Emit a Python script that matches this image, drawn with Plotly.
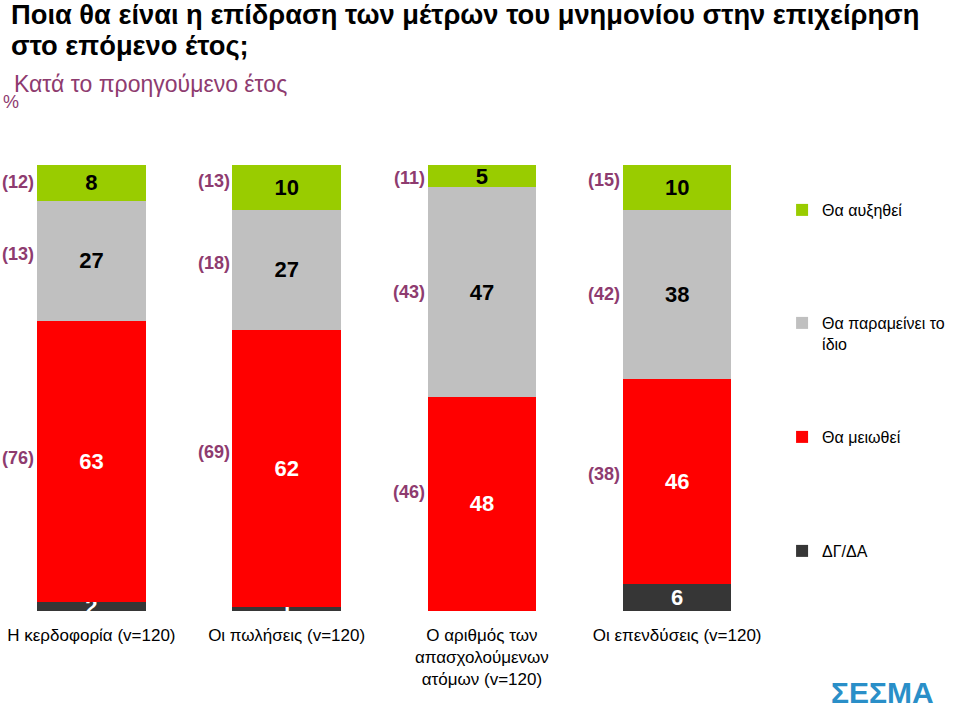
import plotly.graph_objects as go

categories = ["Η κερδοφορία (v=120)", "Οι πωλήσεις (v=120)",
              "Ο αριθμός των<br>απασχολούμενων<br>ατόμων (v=120)", "Οι επενδύσεις (v=120)"]
dk = [2, 1, 0, 6]          # ΔΓ/ΔΑ
decrease = [63, 62, 48, 46]  # Θα μειωθεί
same = [27, 27, 47, 38]      # Θα παραμείνει το ίδιο
increase = [8, 10, 5, 10]    # Θα αυξηθεί

prev_increase = [12, 13, 11, 15]
prev_same = [13, 18, 43, 42]
prev_decrease = [76, 69, 46, 38]

series = [
    ("ΔΓ/ΔΑ", dk, "#363636", "white", "legend4"),
    ("Θα μειωθεί", decrease, "#FF0000", "white", "legend3"),
    ("Θα παραμείνει το<br>ίδιο", same, "#C0C0C0", "black", "legend2"),
    ("Θα αυξηθεί", increase, "#99CC00", "black", "legend"),
]

FONT = "Liberation Sans, Arial, sans-serif"
PURPLE = "#8E3B6F"

fig = go.Figure()
xs = list(range(len(categories)))
for name, vals, color, tcolor, lg in series:
    fig.add_trace(go.Bar(
        x=xs, y=vals, name=name, marker=dict(color=color, line=dict(width=0)),
        width=0.555,
        text=[str(v) if v > 0 else "" for v in vals],
        textposition="inside", insidetextanchor="middle", textangle=0,
        textfont=dict(family=FONT, size=22, color=tcolor, weight="bold"),
        cliponaxis=True, legend=lg, hoverinfo="skip",
    ))

annotations = []
# previous-year labels at segment centres
yshift_inc = [1, 6, -2, 7]
yshift_same = [7, 7, 0, 0]
yshift_dec = [4, 16, 12, 8]
for i in xs:
    c_dec = dk[i] + decrease[i] / 2
    c_same = dk[i] + decrease[i] + same[i] / 2
    c_inc = dk[i] + decrease[i] + same[i] + increase[i] / 2
    for val, yc, ys in [(prev_increase[i], c_inc, yshift_inc[i]),
                        (prev_same[i], c_same, yshift_same[i]),
                        (prev_decrease[i], c_dec, yshift_dec[i])]:
        annotations.append(dict(
            x=i, y=yc, xref="x", yref="y", text=f"<b>({val})</b>", showarrow=False,
            xanchor="right", yanchor="middle", xshift=-55, yshift=ys,
            font=dict(family=FONT, size=18, color=PURPLE)))

# title (two lines) & subtitle
title_lines = ["Ποια θα είναι η επίδραση των μέτρων του μνημονίου στην επιχείρηση",
               "στο επόμενο έτος;"]
for line, ypx in zip(title_lines, [14, 45]):
    annotations.append(dict(
        x=9 / 959, y=1 - ypx / 724, xref="paper", yref="paper", xanchor="left",
        yanchor="middle", align="left", showarrow=False, text=f"<b>{line}</b>",
        font=dict(family=FONT, size=27.3, color="black")))
annotations.append(dict(
    x=12 / 959, y=1 - 84 / 724, xref="paper", yref="paper", xanchor="left", yanchor="middle",
    showarrow=False, text="Κατά το προηγούμενο έτος",
    font=dict(family=FONT, size=23, color=PURPLE)))
annotations.append(dict(
    x=1 / 959, y=1 - 102 / 724, xref="paper", yref="paper", xanchor="left", yanchor="middle",
    showarrow=False, text="%",
    font=dict(family=FONT, size=18, color=PURPLE)))
# logo approximation
annotations.append(dict(
    x=888 / 959, y=1 - 692 / 724, xref="paper", yref="paper", xanchor="center", yanchor="middle",
    showarrow=False, text="<b>ΣΕΣΜΑ</b>",
    font=dict(family=FONT, size=30, color="#2A8FC8")))

leg_common = dict(font=dict(family=FONT, size=16, color="black"), bgcolor="rgba(0,0,0,0)",
                  xanchor="left", yanchor="middle", x=787 / 959, itemclick=False,
                  itemdoubleclick=False, valign="top", tracegroupgap=0)

fig.update_layout(
    width=959, height=724,
    margin=dict(l=0, r=0, t=0, b=0),
    paper_bgcolor="white", plot_bgcolor="white",
    barmode="stack",
    showlegend=True,
    legend=dict(**leg_common, y=1 - 210 / 724),
    legend2=dict(**{**leg_common, "yanchor": "top"}, y=1 - 306 / 724),
    legend3=dict(**leg_common, y=1 - 437 / 724),
    legend4=dict(**leg_common, y=1 - 551 / 724),
    xaxis=dict(domain=[0, 760 / 959], range=[-0.468, 3.4], tickmode="array",
               tickvals=xs, ticktext=categories, showgrid=False, zeroline=False,
               showline=False, ticks="", ticklabelstandoff=12,
               tickfont=dict(family=FONT, size=17, color="black")),
    yaxis=dict(domain=[(724 - 611) / 724, (724 - 165) / 724], range=[0, 100],
               showgrid=False, zeroline=False, showline=False, showticklabels=False,
               ticks=""),
    uniformtext=dict(minsize=22, mode="show"),
    annotations=annotations,
)

fig.write_html("out.html")
